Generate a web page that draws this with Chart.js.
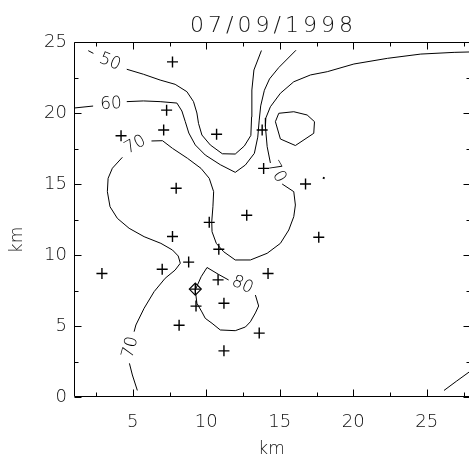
<!DOCTYPE html>
<html>
<head>
<meta charset="utf-8">
<script src="https://cdn.jsdelivr.net/npm/chart.js@4.4.1/dist/chart.umd.min.js"></script>
<style>
html,body{margin:0;padding:0;background:#fff;}
#wrap{width:469px;height:456px;}
</style>
</head>
<body>
<div id="wrap"><canvas id="c" width="469" height="456"></canvas></div>
<script>
// ---- data (km) ----
const titleText = "07/09/1998";
const xTitle = "km";
const yTitle = "km";
const xTicks = [5, 10, 15, 20, 25];
const yTicks = [0, 5, 10, 15, 20, 25];
const xRange = [1, 27.87];
const yRange = [0, 25];

// station markers
const stations = [
  [7.7,23.6],[7.3,20.2],[7.1,18.8],[4.2,18.4],[10.7,18.5],[13.8,18.8],[13.9,16.1],
  [16.75,15.0],[7.95,14.7],[12.75,12.8],[10.2,12.3],[17.65,11.25],[7.7,11.3],
  [10.85,10.4],[8.8,9.5],[7.0,9.0],[2.9,8.7],[14.2,8.7],[10.8,8.25],[9.25,7.6],
  [9.3,6.4],[11.2,6.6],[8.15,5.05],[13.6,4.5],[11.2,3.25]
];
const centerSite = [[9.25,7.6]];

// contour lines
const c50a = [[1.97,24.39],[2.32,24.2]];
const c50b = [[4.59,23.08],[5.72,22.73],[6.86,22.32],[7.88,22.02],[8.68,21.5],[9.13,20.8],[9.36,20.0],[9.47,19.27],[9.7,18.45],[10.27,17.75],[11.09,17.13],[11.97,17.11],[12.59,17.68],[13.03,18.42],[13.08,19.72],[13.1,21.62],[13.24,23.03],[13.75,24.4]];
const c60a = [[1.0,20.35],[2.3,20.49]];
const c60b = [[4.59,20.8],[5.72,20.85],[6.86,20.8],[8.0,20.7],[8.34,20.14],[8.57,19.39],[8.81,18.59],[9.25,17.75],[9.93,17.04],[10.95,16.36],[11.97,15.82],[12.66,16.34],[13.27,17.16],[13.5,18.3],[13.6,19.5],[13.7,20.5],[13.95,21.6],[14.3,22.4],[14.93,23.2],[16.1,24.42]];
const c70a = [[28.0,24.3],[26.86,24.27],[24.59,24.15],[22.32,23.85],[20.04,23.45],[18.23,22.91],[17.09,22.68],[15.95,22.2],[15.04,21.39],[14.36,20.44],[14.05,19.65],[14.02,19.04],[14.14,17.63],[14.36,16.48]];
const c70b = [[15.16,15.0],[15.95,14.46],[16.06,13.52],[15.95,12.7],[15.61,11.76],[15.04,10.82],[14.14,10.12],[13.0,9.65],[11.97,9.65],[11.18,10.23],[10.68,10.82],[10.39,11.64],[10.37,12.35],[10.45,13.4],[10.5,14.46],[10.2,15.4],[9.64,16.1],[8.72,16.81],[7.7,17.51],[7.02,18.05],[6.27,18.03]];
const c70c = [[4.29,16.88],[3.61,16.11],[3.32,15.4],[3.27,14.46],[3.45,13.4],[3.95,12.58],[4.75,11.88],[5.77,11.29],[6.91,10.82],[7.7,10.35],[8.09,9.93],[8.23,9.42],[7.88,8.94],[7.2,8.36],[6.45,7.42],[5.77,6.25],[5.21,5.07],[5.09,4.6]];
const c70d = [[4.77,2.37],[4.97,1.55],[5.31,0.46]];
const c80 = [[11.52,8.24],[10.84,8.63],[10.05,9.12],[9.65,8.47],[9.25,7.54],[9.36,6.6],[9.7,5.99],[9.93,5.54],[10.39,5.19],[10.95,4.72],[11.97,4.67],[12.66,4.93],[13.0,5.3],[13.34,5.92],[13.56,6.41],[13.34,7.18]];
const cSmall = [[14.93,19.98],[15.95,20.09],[16.86,19.86],[17.36,19.39],[17.31,18.57],[16.06,17.71],[15.04,18.17],[14.7,19.39],[14.93,19.98]];
const cDot = [[17.93,15.45],[18.05,15.4]];
const cCorner = [[26.17,0.46],[27.0,1.1],[28.0,1.85]];

// contour labels: [text, x, y, rotation deg]
const contourLabels = [
  ["50", 3.45, 23.59, 22],
  ["60", 3.52, 20.63, -3],
  ["70", 5.16, 17.75, -28],
  ["70", 14.77, 15.85, 60],
  ["70", 4.85, 3.49, -75],
  ["80", 12.45, 7.89, 25]
];

const toPts = a => a.map(p => ({x: p[0], y: p[1]}));
const lineDs = (a, w) => ({
  data: toPts(a), showLine: true, pointRadius: 0, borderColor: '#000',
  borderWidth: w || 1, tension: 0, fill: false
});

const FONT = '"DejaVu Sans", "Liberation Sans", sans-serif';

const framePlugin = {
  id: 'frame',
  afterDatasetsDraw(chart) {
    const {ctx, chartArea: a, scales: {x, y}} = chart;
    ctx.save();
    ctx.strokeStyle = '#000';
    ctx.lineWidth = 1;
    const L = Math.round(a.left) + 0.5, R = Math.round(a.right) + 1.5;
    const T = Math.round(a.top) + 0.5, B = Math.round(a.bottom) - 0.5;
    ctx.beginPath();
    ctx.moveTo(R, T); ctx.lineTo(L, T); ctx.lineTo(L, B); ctx.lineTo(R, B);
    for (let v = 2.5; v <= xRange[1]; v += 2.5) {
      const px = Math.round(x.getPixelForValue(v)) + 0.5;
      const len = (v % 5 === 0) ? 7 : 4;
      ctx.moveTo(px, B); ctx.lineTo(px, B - len);
      ctx.moveTo(px, T); ctx.lineTo(px, T + len);
    }
    for (let v = 0; v <= yRange[1]; v += 2.5) {
      const py = Math.round(y.getPixelForValue(v)) + 0.5;
      const len = (v % 5 === 0) ? 7 : 4;
      ctx.moveTo(L, py); ctx.lineTo(L + len, py);
      ctx.moveTo(R, py); ctx.lineTo(R - len, py);
    }
    ctx.stroke();

    // contour labels
    ctx.fillStyle = '#000';
    ctx.font = '300 17px ' + FONT;
    ctx.textAlign = 'center';
    ctx.textBaseline = 'middle';
    contourLabels.forEach(([t, vx, vy, r]) => {
      ctx.save();
      ctx.translate(x.getPixelForValue(vx), y.getPixelForValue(vy));
      ctx.rotate(r * Math.PI / 180);
      ctx.fillText(t, 0, 0);
      ctx.restore();
    });

    // y-axis title
    ctx.save();
    ctx.fillStyle = '#111';
    ctx.font = '200 17px ' + FONT;
    ctx.translate(17.5, 240);
    ctx.rotate(-Math.PI / 2);
    ctx.fillText(yTitle, 0, 0);
    ctx.restore();

    // title
    ctx.font = '200 22px ' + FONT;
    ctx.fillStyle = '#111';
    try { ctx.letterSpacing = '4px'; } catch (e) {}
    ctx.textAlign = 'center';
    ctx.textBaseline = 'alphabetic';
    ctx.fillText(titleText, 273.5, 32);
    ctx.restore();
  }
};

new Chart(document.getElementById('c'), {
  type: 'scatter',
  data: {
    datasets: [
      lineDs(c50a), lineDs(c50b), lineDs(c60a), lineDs(c60b),
      lineDs(c70a), lineDs(c70b), lineDs(c70c), lineDs(c70d),
      lineDs(c80), lineDs(cSmall), lineDs(cDot, 2), lineDs(cCorner),
      {
        data: toPts(stations), pointStyle: 'cross', pointRadius: 5.5,
        borderColor: '#000', borderWidth: 1.4, showLine: false
      },
      {
        data: toPts(centerSite), pointStyle: 'rectRot', pointRadius: 6,
        borderColor: '#000', backgroundColor: 'rgba(0,0,0,0)', borderWidth: 1.2, showLine: false
      }
    ]
  },
  options: {
    responsive: false,
    animation: false,
    devicePixelRatio: 1,
    layout: {autoPadding: false, padding: {top: 42, right: 0, bottom: 0, left: 0}},
    plugins: {legend: {display: false}, tooltip: {enabled: false}, title: {display: false}},
    scales: {
      x: {
        type: 'linear', min: xRange[0], max: xRange[1],
        afterBuildTicks: s => { s.ticks = xTicks.map(v => ({value: v})); },
        afterFit: s => { s.height = 59; s.paddingLeft = 0; s.paddingRight = 0; },
        grid: {display: false, drawTicks: false},
        border: {display: false},
        ticks: {color: '#111', padding: 15, font: {family: FONT, size: 18, weight: '200'}, maxRotation: 0},
        title: {display: true, text: xTitle, color: '#111', padding: {top: 0, bottom: -4}, font: {family: FONT, size: 17, weight: '200'}}
      },
      y: {
        type: 'linear', min: yRange[0], max: yRange[1],
        afterBuildTicks: s => { s.ticks = yTicks.map(v => ({value: v})); },
        afterFit: s => { s.width = 74; s.paddingTop = 0; s.paddingBottom = 0; },
        grid: {display: false, drawTicks: false},
        border: {display: false},
        ticks: {color: '#111', padding: 7, font: {family: FONT, size: 18, weight: '200'}},
        title: {display: false}
      }
    }
  },
  plugins: [framePlugin]
});
</script>
</body>
</html>
